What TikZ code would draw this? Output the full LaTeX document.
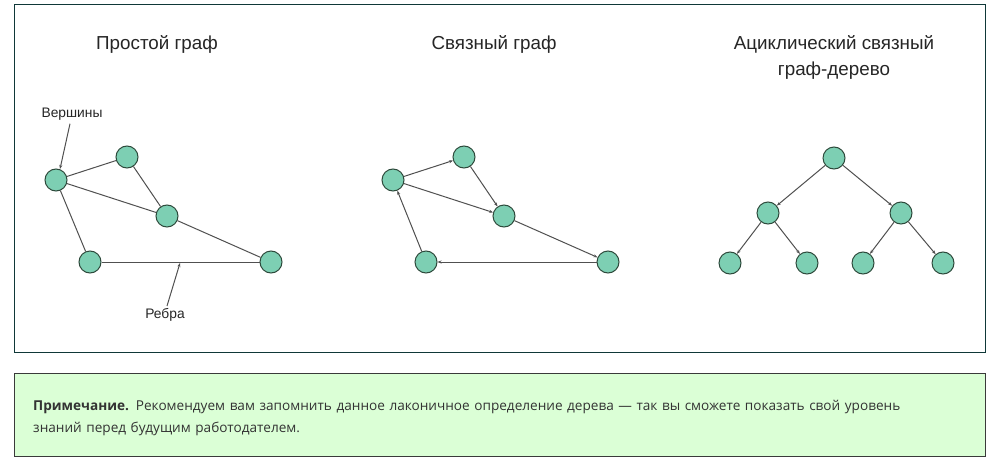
\documentclass[tikz,border=0pt]{standalone}
\usepackage{fontspec}
\setmainfont{Liberation Sans}
\newfontfamily\notefont{Open Sans}
\usetikzlibrary{arrows.meta}
\definecolor{nodefill}{HTML}{7DCFB3}
\definecolor{nodeline}{HTML}{2E4A3C}
\definecolor{edgecol}{HTML}{505050}
\definecolor{framecol}{HTML}{0F3838}
\definecolor{notefill}{HTML}{DBFFD6}
\definecolor{noteline}{HTML}{3A3A3A}
\definecolor{notetext}{HTML}{333333}
\begin{document}
\begin{tikzpicture}[x=1pt,y=-1pt,
  vert/.style={circle,draw=nodeline,fill=nodefill,line width=1pt,minimum size=22pt,inner sep=0pt},
  edge/.style={draw=edgecol,line width=1pt},
  arr/.style={edge,-{Stealth[length=4pt,width=3pt]}},
  ttl/.style={font=\fontsize{18.8}{26}\selectfont,text=black!85,align=center},
  lbl/.style={font=\fontsize{13.8}{16}\selectfont,text=black!85}]
\useasboundingbox (0,0) rectangle (996,463);
\fill[white] (0,0) rectangle (996,463);
\draw[framecol,line width=1pt] (14,4) rectangle (985,352);
\draw[noteline,fill=notefill,line width=0.8pt] (14,373) rectangle (985,456);
% titles
\node[ttl] (t1) at (157,44) {Простой граф};
\node[ttl] (t2) at (494,44) {Связный граф};
\node[ttl] (t3) at (834,57) {Ациклический связный\\граф-дерево};
% graph 1
\node[vert] (a) at (56,180) {};
\node[vert] (b) at (127,157) {};
\node[vert] (c) at (167,216) {};
\node[vert] (d) at (90,262) {};
\node[vert] (e) at (271,262) {};
\draw[edge] (a)--(b); \draw[edge] (b)--(c); \draw[edge] (a)--(c);
\draw[edge] (c)--(e); \draw[edge] (a)--(d); \draw[edge] (d)--(e);
\node[lbl] (v) at (72,114) {Вершины};
\node[lbl] (r) at (165,315) {Ребра};
\coordinate (vt) at (60,169);
\coordinate (rt) at (180,263);
\draw[arr] (v.south)++(-2,0) -- (vt);
\draw[arr] (r.north)++(2,1) -- (rt);
% graph 2
\node[vert] (a2) at (393,180) {};
\node[vert] (b2) at (464,157) {};
\node[vert] (c2) at (504,216) {};
\node[vert] (d2) at (426,262) {};
\node[vert] (e2) at (608,262) {};
\draw[arr] (a2)--(b2); \draw[arr] (b2)--(c2); \draw[arr] (a2)--(c2);
\draw[arr] (c2)--(e2); \draw[arr] (e2)--(d2); \draw[arr] (d2)--(a2);
% tree
\node[vert] (root) at (834,158) {};
\node[vert] (l) at (768,213) {};
\node[vert] (rr) at (901,213) {};
\node[vert] (l1) at (730,263) {};
\node[vert] (l2) at (807,263) {};
\node[vert] (r1) at (863,263) {};
\node[vert] (r2) at (943,263) {};
\draw[arr] (root)--(l); \draw[arr] (root)--(rr);
\draw[arr] (l)--(l1); \draw[arr] (l)--(l2);
\draw[arr] (rr)--(r1); \draw[arr] (rr)--(r2);
% note
\node[anchor=north west,text width=915pt,align=left,inner sep=0pt,
  font=\notefont\fontsize{13.6}{22}\selectfont,text=notetext] (note) at (33,400)
  {\textbf{Примечание.} Рекомендуем вам запомнить данное лаконичное определение дерева — так вы сможете показать свой уровень знаний перед будущим работодателем.};
\end{tikzpicture}
\end{document}
